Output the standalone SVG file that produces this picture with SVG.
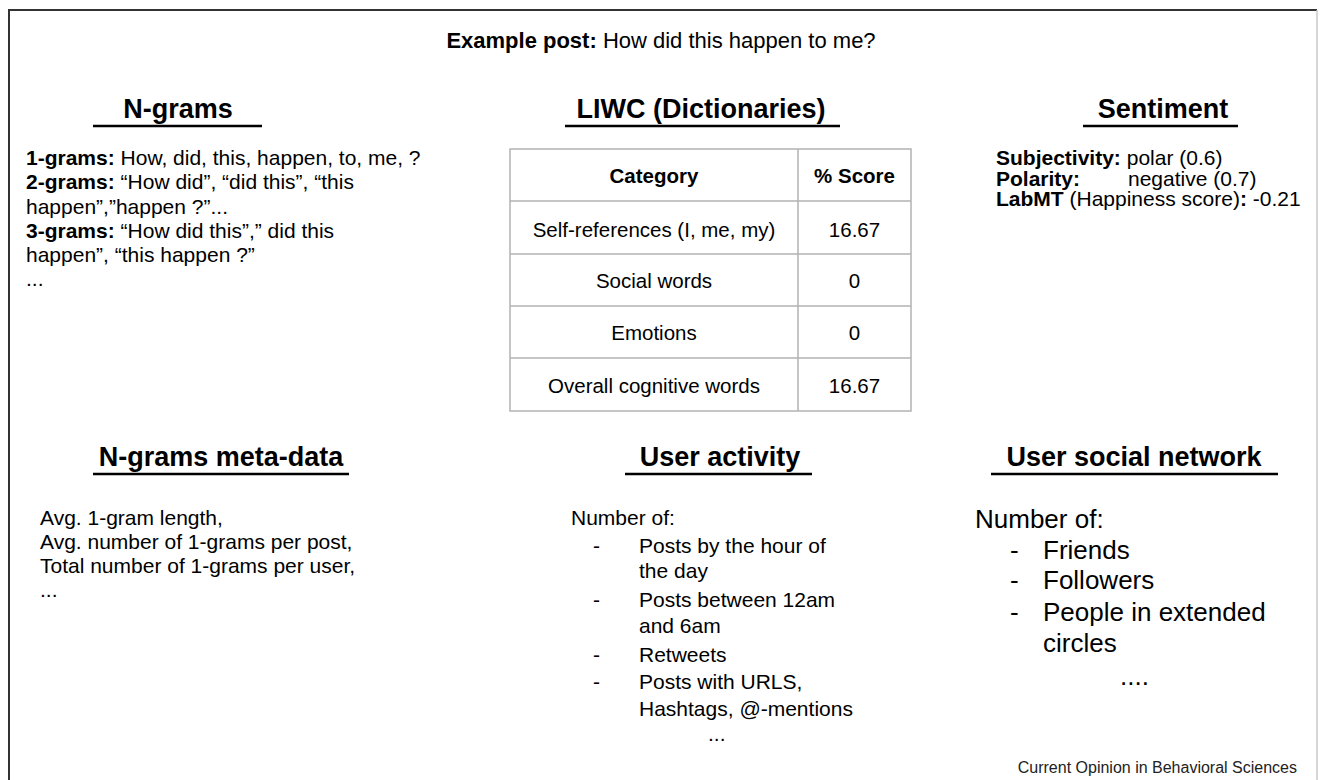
<svg xmlns="http://www.w3.org/2000/svg" width="1321" height="780" viewBox="0 0 1321 780">
<style>
text{font-family:"Liberation Sans",Arial,Helvetica,sans-serif;fill:#000}
.t{font-size:22px}
.h{font-size:27px;font-weight:bold;text-anchor:middle}
.ul{stroke:#000;stroke-width:2.5}
.b{font-size:21px}
.tb{font-size:20.5px;text-anchor:middle}
.bold{font-weight:bold}
.grid{stroke:#b3b3b3;stroke-width:1.5;fill:none}
.big{font-size:26px}
.foot{font-size:16px;text-anchor:end;fill:#222}
</style>
<rect width="1321" height="780" fill="#fff"/>
<g id="frame">
<path d="M9,780 V10 H1317" fill="none" stroke="#333" stroke-width="2"/>
<line x1="1317" y1="10" x2="1317" y2="780" stroke="#c8c8c8" stroke-width="1.5"/>
</g>
<g id="title">
<text class="t" x="661" y="48" text-anchor="middle"><tspan class="bold">Example post:</tspan> How did this happen to me?</text>
</g>
<g id="ngrams">
<text class="h" x="178" y="118">N-grams</text>
<line class="ul" x1="93" y1="126" x2="262" y2="126"/>
<text class="b" x="26" y="165"><tspan class="bold">1-grams:</tspan> How, did, this, happen, to, me, ?</text>
<text class="b" x="26" y="189"><tspan class="bold">2-grams:</tspan> “How did”, “did this”, “this</text>
<text class="b" x="26" y="213.5">happen”,”happen ?”...</text>
<text class="b" x="26" y="237.5"><tspan class="bold">3-grams:</tspan> “How did this”,” did this</text>
<text class="b" x="26" y="261.5">happen”, “this happen ?”</text>
<text class="b" x="26" y="285.5">...</text>
</g>
<g id="liwc">
<text class="h" x="701" y="118">LIWC (Dictionaries)</text>
<line class="ul" x1="565" y1="126" x2="840" y2="126"/>
<rect class="grid" x="510" y="149" width="401" height="262"/>
<path class="grid" d="M510,201 H911 M510,254 H911 M510,306 H911 M510,358 H911 M798,149 V411"/>
<text class="tb bold" x="654" y="183">Category</text>
<text class="tb bold" x="854.5" y="183">% Score</text>
<text class="tb" x="654" y="237">Self-references (I, me, my)</text>
<text class="tb" x="854.5" y="237">16.67</text>
<text class="tb" x="654" y="288">Social words</text>
<text class="tb" x="854.5" y="288">0</text>
<text class="tb" x="654" y="340">Emotions</text>
<text class="tb" x="854.5" y="340">0</text>
<text class="tb" x="654" y="393">Overall cognitive words</text>
<text class="tb" x="854.5" y="393">16.67</text>
</g>
<g id="sentiment">
<text class="h" x="1163" y="118">Sentiment</text>
<line class="ul" x1="1083" y1="126" x2="1238" y2="126"/>
<text class="b" x="996" y="165"><tspan class="bold">Subjectivity:</tspan> polar (0.6)</text>
<text class="b" x="996" y="185.5"><tspan class="bold">Polarity:</tspan><tspan x="1128">negative (0.7)</tspan></text>
<text class="b" x="996" y="206"><tspan class="bold">LabMT</tspan> (Happiness score)<tspan class="bold">:</tspan> -0.21</text>
</g>
<g id="ngrams-meta">
<text class="h" x="221" y="466">N-grams meta-data</text>
<line class="ul" x1="93" y1="474" x2="349" y2="474"/>
<text class="b" x="40" y="525">Avg. 1-gram length,</text>
<text class="b" x="40" y="549">Avg. number of 1-grams per post,</text>
<text class="b" x="40" y="573">Total number of 1-grams per user,</text>
<text class="b" x="40" y="597">...</text>
</g>
<g id="user-activity">
<text class="h" x="720" y="466">User activity</text>
<line class="ul" x1="625" y1="474" x2="812" y2="474"/>
<text class="b" x="571" y="525">Number of:</text>
<text class="b" x="593" y="553">-</text>
<text class="b" x="639" y="553">Posts by the hour of</text>
<text class="b" x="639" y="578">the day</text>
<text class="b" x="593" y="607">-</text>
<text class="b" x="639" y="607">Posts between 12am</text>
<text class="b" x="639" y="633">and 6am</text>
<text class="b" x="593" y="662">-</text>
<text class="b" x="639" y="662">Retweets</text>
<text class="b" x="593" y="689">-</text>
<text class="b" x="639" y="689">Posts with URLS,</text>
<text class="b" x="639" y="716">Hashtags, @-mentions</text>
<text class="b" x="708" y="741">...</text>
</g>
<g id="user-social-network">
<text class="h" x="1134" y="466">User social network</text>
<line class="ul" x1="991" y1="474" x2="1278" y2="474"/>
<text class="big" x="975" y="528">Number of:</text>
<text class="big" x="1010" y="559">-</text>
<text class="big" x="1043" y="559">Friends</text>
<text class="big" x="1010" y="589">-</text>
<text class="big" x="1043" y="589">Followers</text>
<text class="big" x="1010" y="621">-</text>
<text class="big" x="1043" y="621">People in extended</text>
<text class="big" x="1043" y="652">circles</text>
<text class="big" x="1120" y="685">....</text>
</g>
<g id="connectors"/>
<g id="footer">
<text class="foot" x="1297" y="773">Current Opinion in Behavioral Sciences</text>
</g>
</svg>
